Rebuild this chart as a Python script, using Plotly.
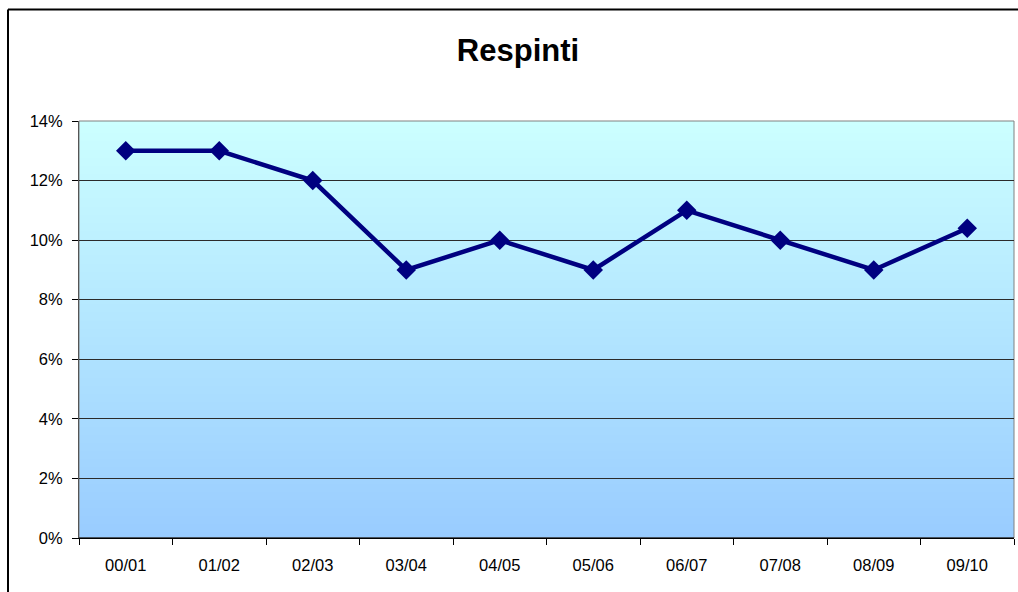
import base64
import struct
import zlib

import plotly.graph_objects as go

categories = ["00/01", "01/02", "02/03", "03/04", "04/05", "05/06", "06/07", "07/08", "08/09", "09/10"]
respinti = [13, 13, 12, 9, 10, 9, 11, 10, 9, 10.4]
y_ticks = [0, 2, 4, 6, 8, 10, 12, 14]
y_tick_text = [f"{v}%" for v in y_ticks]

W, H = 1018, 592
L, R, T, B = 79, 4, 121, 54
pw, ph = W - L - R, H - T - B

n = len(categories)
xs = list(range(n))


def gradient_png(h, top, bottom, w=2):
    rows = b""
    for i in range(h):
        f = i / (h - 1)
        c = bytes(round(top[k] + (bottom[k] - top[k]) * f) for k in range(3))
        rows += b"\x00" + c * w

    def chunk(tag, data):
        return (struct.pack(">I", len(data)) + tag + data
                + struct.pack(">I", zlib.crc32(tag + data) & 0xffffffff))

    png = (b"\x89PNG\r\n\x1a\n"
           + chunk(b"IHDR", struct.pack(">IIBBBBB", w, h, 8, 2, 0, 0, 0))
           + chunk(b"IDAT", zlib.compress(rows, 9))
           + chunk(b"IEND", b""))
    return "data:image/png;base64," + base64.b64encode(png).decode()


bg = gradient_png(256, (204, 255, 255), (153, 204, 255))

fig = go.Figure()

fig.add_trace(go.Scatter(
    x=xs, y=respinti,
    mode="lines+markers",
    line=dict(color="#000080", width=4.5),
    marker=dict(symbol="diamond", size=15, color="#000080"),
    showlegend=False,
    cliponaxis=False,
))

fx0 = (8 - L) / pw
fy1 = (ph + T - 9.5) / ph

fig.update_layout(
    width=W, height=H,
    margin=dict(l=L, r=R, t=T, b=B),
    paper_bgcolor="white",
    plot_bgcolor="rgba(0,0,0,0)",
    font=dict(family="Liberation Sans, Arial, sans-serif", size=16.5, color="black"),
    title=dict(text="<b>Respinti</b>", x=518 / W, xanchor="center",
               y=1 - 50 / H, yanchor="middle",
               font=dict(size=31, family="Liberation Sans, Arial, sans-serif", color="black")),
    images=[dict(source=bg, xref="paper", yref="paper", x=0, y=1, sizex=1, sizey=1,
                 xanchor="left", yanchor="top", sizing="stretch", layer="below")],
    xaxis=dict(
        range=[-0.5, n - 0.5],
        tickvals=xs, ticktext=categories,
        ticks="", showgrid=False, zeroline=False,
        showline=True, linecolor="black", linewidth=1,
        ticklabelstandoff=12,
        minor=dict(tickvals=[i - 0.5 for i in range(n + 1)], ticks="outside",
                   ticklen=6, tickcolor="black", tickwidth=1, showgrid=False),
    ),
    yaxis=dict(
        range=[0, 14],
        tickvals=y_ticks, ticktext=y_tick_text,
        ticks="outside", ticklen=6, tickcolor="black", tickwidth=1,
        showgrid=True, gridcolor="#2b2b2b", gridwidth=1,
        zeroline=False,
        showline=True, linecolor="#555555", linewidth=1,
        ticklabelstandoff=6,
    ),
    shapes=[
        dict(type="rect", xref="paper", yref="paper", x0=0, x1=1, y0=0, y1=1,
             line=dict(color="#808080", width=1), layer="below"),
        dict(type="line", xref="paper", yref="paper", x0=0, x1=1, y0=0, y1=0,
             line=dict(color="black", width=1), layer="above"),
        # outer chart frame: left and top edges only (others lie outside the picture)
        dict(type="line", xref="paper", yref="paper", x0=fx0, x1=fx0,
             y0=-(B + 5) / ph, y1=fy1, line=dict(color="black", width=2), layer="above"),
        dict(type="line", xref="paper", yref="paper", x0=fx0, x1=(W - L + 5) / pw,
             y0=fy1, y1=fy1, line=dict(color="black", width=2), layer="above"),
    ],
)

fig.write_html("out.html", config={"displayModeBar": False},
               post_script="document.body.style.margin='0';"
                           "document.body.style.overflow='hidden';"
                           "document.documentElement.style.overflow='hidden';")
